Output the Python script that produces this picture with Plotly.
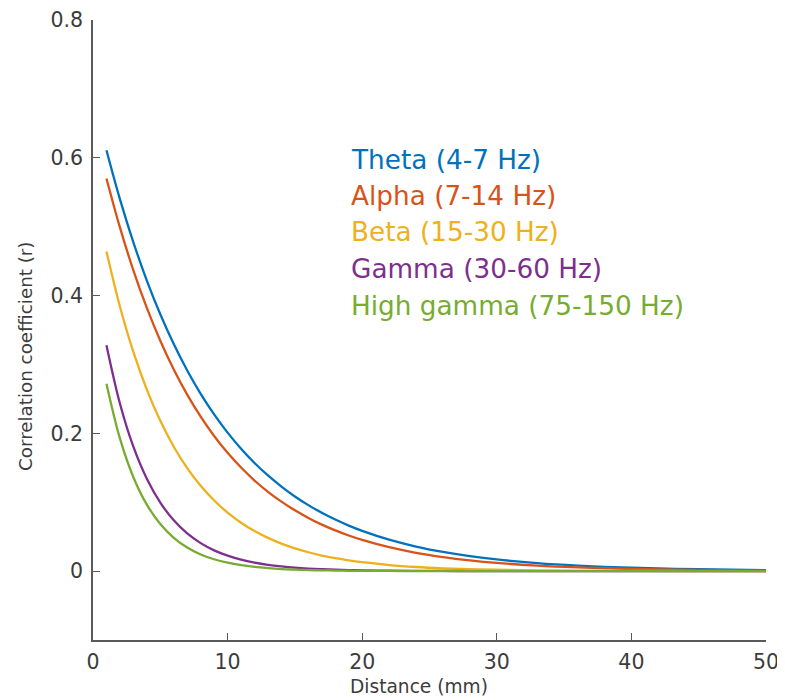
import plotly.graph_objects as go

# Distance (mm) sample points
distance = [1, 2, 3, 4, 5, 6, 7, 8, 9, 10, 11, 12, 13, 14, 15, 16, 17, 18, 19, 20,
            22, 24, 26, 28, 30, 33, 36, 40, 45, 50]

theta = [0.6110, 0.5400, 0.4773, 0.4218, 0.3728, 0.3295, 0.2912, 0.2574, 0.2275, 0.2010,
         0.1777, 0.1570, 0.1388, 0.1227, 0.1084, 0.0958, 0.0847, 0.0748, 0.0661, 0.0585,
         0.0457, 0.0357, 0.0279, 0.0218, 0.0170, 0.0117, 0.0081, 0.0049, 0.0027, 0.0014]
alpha = [0.5700, 0.4989, 0.4366, 0.3821, 0.3344, 0.2927, 0.2562, 0.2242, 0.1962, 0.1717,
         0.1503, 0.1315, 0.1151, 0.1008, 0.0882, 0.0772, 0.0675, 0.0591, 0.0517, 0.0453,
         0.0347, 0.0266, 0.0204, 0.0156, 0.0119, 0.0080, 0.0054, 0.0031, 0.0016, 0.0008]
beta = [0.4640, 0.3842, 0.3181, 0.2634, 0.2181, 0.1806, 0.1495, 0.1238, 0.1025, 0.0849,
        0.0703, 0.0582, 0.0482, 0.0399, 0.0330, 0.0274, 0.0226, 0.0187, 0.0155, 0.0129,
        0.0088, 0.0060, 0.0041, 0.0028, 0.0020, 0.0011, 0.0006, 0.0003, 0.0001, 0.0000]
gamma = [0.3280, 0.2434, 0.1806, 0.1340, 0.0994, 0.0738, 0.0547, 0.0406, 0.0301, 0.0224,
         0.0166, 0.0123, 0.0091, 0.0068, 0.0050, 0.0037, 0.0028, 0.0021, 0.0015, 0.0011,
         0.0006, 0.0003, 0.0002, 0.0001, 0.0000, 0.0000, 0.0000, 0.0000, 0.0000, 0.0000]
high_gamma = [0.2720, 0.1926, 0.1363, 0.0965, 0.0683, 0.0484, 0.0343, 0.0242, 0.0172, 0.0122,
              0.0086, 0.0061, 0.0043, 0.0030, 0.0022, 0.0015, 0.0011, 0.0008, 0.0005, 0.0004,
              0.0002, 0.0001, 0.0000, 0.0000, 0.0000, 0.0000, 0.0000, 0.0000, 0.0000, 0.0000]

band_labels = ["Theta (4-7 Hz)", "Alpha (7-14 Hz)", "Beta (15-30 Hz)",
               "Gamma (30-60 Hz)", "High gamma (75-150 Hz)"]
band_colors = ["#0072BD", "#D95319", "#EDB120", "#7E2F8E", "#77AC30"]
series = [theta, alpha, beta, gamma, high_gamma]

x_ticks = [0, 10, 20, 30, 40, 50]
y_ticks = [0, 0.2, 0.4, 0.6, 0.8]
y_tick_text = ["0", "0.2", "0.4", "0.6", "0.8"]
x_title = "Distance (mm)"
y_title = "Correlation coefficient (r)"

FONT = "DejaVu Sans"
AXIS_COLOR = "#5a5a5a"
TEXT_COLOR = "#3c3c3c"

# page body adds an 8px margin; size the figure so it fills the window exactly
OFF = 8
W, H = 785 - OFF, 700 - OFF
ML, MR, MT, MB = 93 - OFF, 19, 20 - OFF, 60
PW, PH = W - ML - MR, H - MT - MB


def px_x(sx):
    return (sx - OFF - ML) / PW


def px_y(sy):
    return 1 - (sy - OFF - MT) / PH


fig = go.Figure()
for name, ys, col in zip(band_labels, series, band_colors):
    fig.add_trace(go.Scatter(x=distance, y=ys, mode="lines", name=name,
                             line=dict(color=col, width=2.3, shape="spline", smoothing=1.0),
                             showlegend=False))

# legend as coloured text
legend_y_px = [160, 196, 232, 269, 306]
for lab, col, ypx in zip(band_labels, band_colors, legend_y_px):
    fig.add_annotation(text=lab, xref="paper", yref="paper",
                       x=px_x(349), y=px_y(ypx),
                       xanchor="left", yanchor="middle", showarrow=False,
                       font=dict(family=FONT, size=26.3, color=col))

# axis titles
fig.add_annotation(text=x_title, xref="paper", yref="paper",
                   x=px_x(419), y=px_y(686),
                   xanchor="center", yanchor="middle", showarrow=False,
                   font=dict(family=FONT, size=18.6, color=TEXT_COLOR))
fig.add_annotation(text=y_title, xref="paper", yref="paper",
                   x=px_x(25), y=px_y(356), textangle=-90,
                   xanchor="center", yanchor="middle", showarrow=False,
                   font=dict(family=FONT, size=18.3, color=TEXT_COLOR))

fig.update_layout(
    template="none",
    width=W, height=H,
    margin=dict(l=ML, r=MR, t=MT, b=MB, autoexpand=False),
    paper_bgcolor="white", plot_bgcolor="white",
    font=dict(family=FONT, color=TEXT_COLOR),
    xaxis=dict(range=[0, 50], tickvals=x_ticks, ticks="inside", ticklen=7,
               tickcolor=AXIS_COLOR, tickwidth=1.3, showline=True, linecolor=AXIS_COLOR,
               linewidth=1.5, showgrid=False, zeroline=False, automargin=False,
               ticklabelstandoff=3,
               tickfont=dict(family=FONT, size=20.5, color=TEXT_COLOR)),
    yaxis=dict(range=[-0.1, 0.8], tickvals=y_ticks, ticktext=y_tick_text, ticks="inside",
               ticklen=7, tickcolor=AXIS_COLOR, tickwidth=1.3, showline=True,
               linecolor=AXIS_COLOR, linewidth=1.5, showgrid=False, zeroline=False,
               automargin=False, ticklabelstandoff=4,
               tickfont=dict(family=FONT, size=20.5, color=TEXT_COLOR)),
)

fig.write_html("out.html")
